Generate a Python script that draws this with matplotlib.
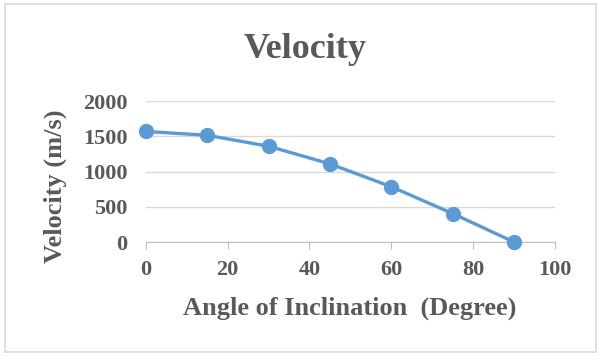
import matplotlib.pyplot as plt
from matplotlib.patches import Rectangle

angles = [0, 15, 30, 45, 60, 75, 90]
velocity = [1570, 1515, 1360, 1110, 785, 405, 0]
x_ticks = [0, 20, 40, 60, 80, 100]
y_ticks = [0, 500, 1000, 1500, 2000]

grey = "#595959"
blue = "#5B9BD5"
font = "Liberation Serif"

fig = plt.figure(figsize=(6, 3.56), dpi=100)
ax = fig.add_axes([0.243, 0.32, 0.682, 0.396])

ax.plot(angles, velocity, color=blue, linewidth=2.4, marker="o",
        markersize=10, zorder=3, clip_on=False)

ax.set_xlim(0, 100)
ax.set_ylim(0, 2000)
ax.set_xticks(x_ticks)
ax.set_yticks(y_ticks)
ax.grid(axis="y", color="#d9d9d9", linewidth=1)
ax.set_axisbelow(True)
for side in ["top", "right", "left"]:
    ax.spines[side].set_visible(False)
ax.spines["bottom"].set_color("#bfbfbf")
ax.tick_params(axis="y", length=0, pad=13)
ax.tick_params(axis="x", length=5, color="#bfbfbf", pad=8)
for lbl in ax.get_xticklabels() + ax.get_yticklabels():
    lbl.set_fontfamily(font)
    lbl.set_fontweight("bold")
    lbl.set_fontsize(16)
    lbl.set_color(grey)

fig.text(0.583, 0.135, "Angle of Inclination  (Degree)", ha="center", va="center",
         fontfamily=font, fontweight="bold", fontsize=19, color=grey)
fig.text(0.092, 0.478, "Velocity (m/s)", ha="center", va="center", rotation=90,
         fontfamily=font, fontweight="bold", fontsize=19, color=grey)
fig.text(0.508, 0.862, "Velocity", ha="center", va="center",
         fontfamily=font, fontweight="bold", fontsize=26, color=grey)

fig.patches.append(Rectangle((0.008, 0.01), 0.985, 0.98, transform=fig.transFigure,
                             fill=False, edgecolor="#d9d9d9", linewidth=1.2))

fig.savefig("out.png", dpi=100)
